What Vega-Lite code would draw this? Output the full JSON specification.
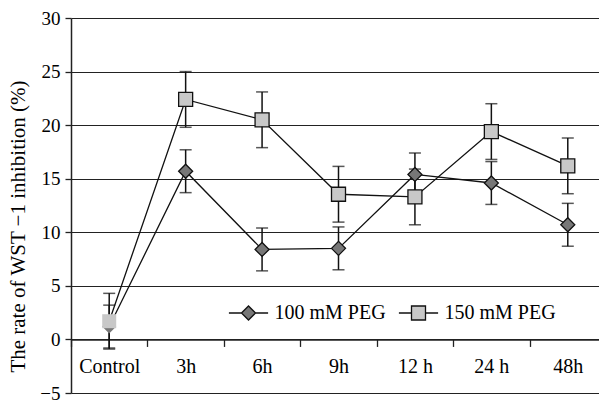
{
  "$schema": "https://vega.github.io/schema/vega-lite/v6.json",
  "width": 535,
  "height": 375,
  "autosize": {"type": "none"},
  "padding": {"left": 71, "top": 18, "right": 0, "bottom": 7},
  "background": "white",
  "config": {
    "view": {"stroke": null},
    "font": "Liberation Serif"
  },
  "data": {
    "values": [
      {"time": "Control", "series": "100 mM PEG", "value": 1.2, "err": 2.0},
      {"time": "3h", "series": "100 mM PEG", "value": 15.7, "err": 2.0},
      {"time": "6h", "series": "100 mM PEG", "value": 8.4, "err": 2.0},
      {"time": "9h", "series": "100 mM PEG", "value": 8.5, "err": 2.0},
      {"time": "12 h", "series": "100 mM PEG", "value": 15.4, "err": 2.0},
      {"time": "24 h", "series": "100 mM PEG", "value": 14.6, "err": 2.0},
      {"time": "48h", "series": "100 mM PEG", "value": 10.7, "err": 2.0},
      {"time": "Control", "series": "150 mM PEG", "value": 1.7, "err": 2.6},
      {"time": "3h", "series": "150 mM PEG", "value": 22.4, "err": 2.6},
      {"time": "6h", "series": "150 mM PEG", "value": 20.5, "err": 2.6},
      {"time": "9h", "series": "150 mM PEG", "value": 13.55, "err": 2.6},
      {"time": "12 h", "series": "150 mM PEG", "value": 13.3, "err": 2.6},
      {"time": "24 h", "series": "150 mM PEG", "value": 19.4, "err": 2.6},
      {"time": "48h", "series": "150 mM PEG", "value": 16.2, "err": 2.6}
    ]
  },
  "encoding": {
    "x": {
      "field": "time",
      "type": "nominal",
      "sort": ["Control", "3h", "6h", "9h", "12 h", "24 h", "48h"],
      "scale": {"type": "band", "paddingInner": 0, "paddingOuter": 0},
      "axis": {
        "title": null,
        "offset": -53.57,
        "tickBand": "extent",
        "labelAngle": 0,
        "labelFontSize": 20,
        "labelColor": "black",
        "labelPadding": 10,
        "domainColor": "#222",
        "domainWidth": 1.5,
        "tickColor": "#222",
        "tickWidth": 1.3,
        "tickSize": 7,
        "grid": false
      }
    },
    "y": {
      "field": "value",
      "type": "quantitative",
      "scale": {"domain": [-5, 30], "nice": false, "zero": false},
      "axis": {
        "values": [-5, 0, 5, 10, 15, 20, 25, 30],
        "grid": true,
        "gridColor": "#222",
        "gridWidth": 1.2,
        "domainColor": "#222",
        "domainWidth": 1.5,
        "tickColor": "#222",
        "tickWidth": 1.3,
        "tickSize": 6,
        "labelFontSize": 19,
        "labelColor": "black",
        "labelPadding": 5,
        "title": "The rate of WST −1 inhibition (%)",
        "titleFontSize": 21,
        "titleFontWeight": "normal",
        "titleColor": "black",
        "titleX": -53,
        "titleY": 208,
        "titleAngle": -90,
        "titleAlign": "center",
        "titleBaseline": "middle"
      }
    }
  },
  "layer": [
    {
      "mark": {"type": "line", "color": "#111", "strokeWidth": 1.3},
      "encoding": {"detail": {"field": "series"}}
    },
    {
      "mark": {
        "type": "errorbar",
        "ticks": {"size": 12, "thickness": 1.5, "color": "#111"},
        "rule": {"strokeWidth": 1.5, "color": "#111"}
      },
      "encoding": {
        "yError": {"field": "err"},
        "detail": {"field": "series"}
      }
    },
    {
      "mark": {"type": "point", "filled": true, "size": 196, "opacity": 1, "stroke": "#111", "strokeWidth": 1.3},
      "encoding": {
        "shape": {
          "condition": {"test": "datum.series === '100 mM PEG'", "value": "diamond"},
          "value": "square"
        },
        "fill": {
          "field": "series",
          "type": "nominal",
          "scale": {"domain": ["100 mM PEG", "150 mM PEG"], "range": ["#777777", "#c8c8c8"]}
        },
        "strokeOpacity": {
          "condition": {"test": "datum.time === 'Control'", "value": 0},
          "value": 1
        }
      }
    },
    {
      "transform": [{"filter": "false"}],
      "mark": {"type": "point", "filled": true, "size": 196, "opacity": 1, "stroke": "#111", "strokeWidth": 1.3},
      "encoding": {
        "shape": {
          "field": "series",
          "type": "nominal",
          "scale": {
            "domain": ["100 mM PEG", "150 mM PEG"],
            "range": ["M-2.8,0H-1M1,0H2.8M-1,0L0,-1L1,0L0,1Z", "M-2.8,0H-1M1,0H2.8M-1,-1H1V1H-1Z"]
          }
        },
        "fill": {
          "field": "series",
          "type": "nominal",
          "legend": {
            "title": null,
            "orient": "none",
            "direction": "horizontal",
            "legendX": 167.5,
            "legendY": 285,
            "padding": 0,
            "symbolSize": 196,
            "symbolStrokeColor": "#111",
            "symbolStrokeWidth": 1.3,
            "symbolOpacity": 1,
            "labelFontSize": 20,
            "labelColor": "black",
            "labelOffset": 16,
            "columnPadding": 9
          }
        }
      }
    }
  ]
}
